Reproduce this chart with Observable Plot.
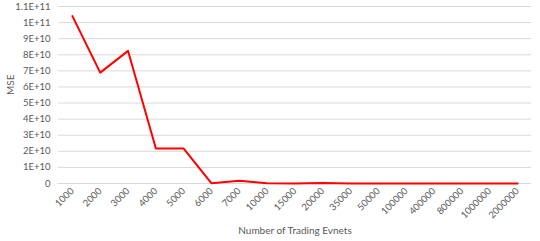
<!DOCTYPE html>
<html>
<head>
<meta charset="utf-8">
<script src="https://cdn.jsdelivr.net/npm/d3@7"></script>
<script src="https://cdn.jsdelivr.net/npm/@observablehq/plot@0.6"></script>
<style>
  html, body { margin: 0; padding: 0; background: #fff; }
  #chart { width: 540px; height: 241px; }
</style>
</head>
<body>
<div id="chart"></div>
<script>
const events = ["1000","2000","3000","4000","5000","6000","7000","10000","15000","20000","35000","50000","100000","400000","800000","1000000","2000000"];
const mse = [1.04e11, 6.89e10, 8.24e10, 2.17e10, 2.17e10, 1.0e8, 1.7e9, 1.0e8, 5e7, 3e8, 5e7, 3e7, 2e7, 1e7, 1e7, 1e7, 1e7];
const yTicks = [0,1e10,2e10,3e10,4e10,5e10,6e10,7e10,8e10,9e10,1e11,1.1e11];
const yTickLabels = ["0","1E+10","2E+10","3E+10","4E+10","5E+10","6E+10","7E+10","8E+10","9E+10","1E+11","1.1E+11"];

const data = events.map((e, i) => ({event: e, mse: mse[i]}));

const chart = Plot.plot({
  width: 540,
  height: 241,
  marginLeft: 58,
  marginRight: 9,
  marginTop: 6,
  marginBottom: 58,
  style: {fontFamily: "Lato, 'Open Sans', sans-serif", fontSize: "9.5px", color: "#595959", background: "#fff"},
  x: {type: "point", domain: events, padding: 0.5, round: false, label: null},
  y: {domain: [0, 1.1e11], label: null},
  marks: [
    Plot.gridY(yTicks, {stroke: "#d9d9d9", strokeOpacity: 1, strokeWidth: 1}),
    Plot.axisY(yTicks, {tickSize: 0, tickPadding: 8, tickFormat: (d) => yTickLabels[yTicks.indexOf(d)], label: null}),
    Plot.axisX({tickSize: 0, tickRotate: -45, tickPadding: 6, label: null}),
    Plot.line(data, {x: "event", y: "mse", stroke: "#ff0000", strokeWidth: 2}),
    Plot.text(["MSE"], {frameAnchor: "left", dx: -48, rotate: -90, fontSize: 10, fill: "#595959"}),
    Plot.text(["Number of Trading Evnets"], {frameAnchor: "bottom", dy: 50, fontSize: 10, fill: "#595959"})
  ]
});
document.getElementById("chart").appendChild(chart);
</script>
</body>
</html>
